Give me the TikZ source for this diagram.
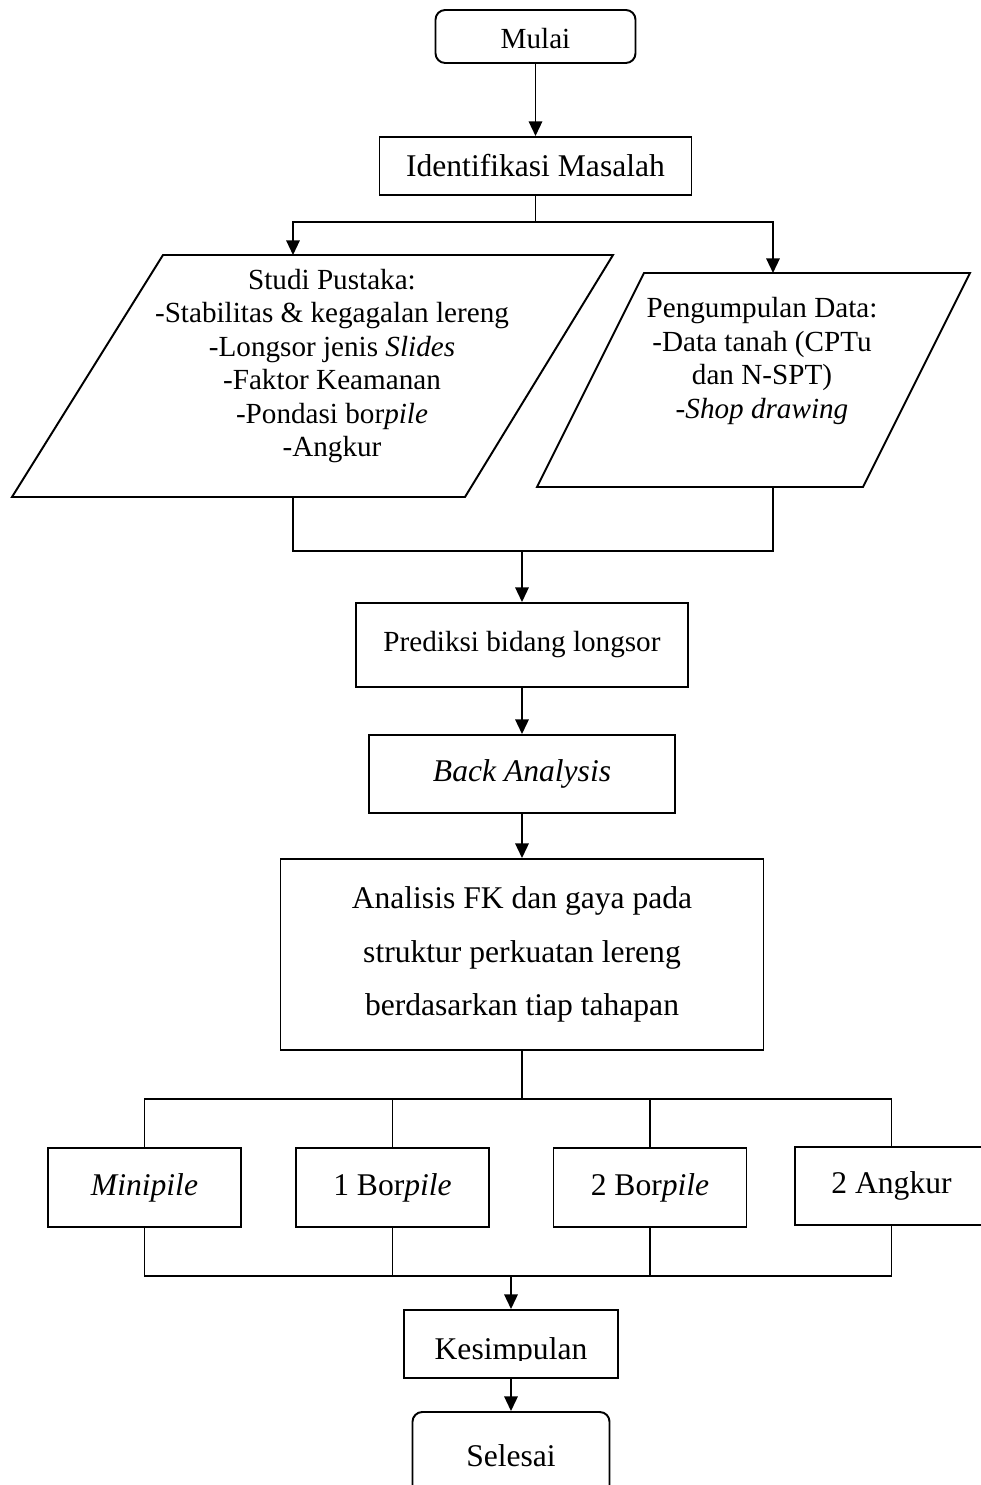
\documentclass[tikz,border=0pt]{standalone}
\usepackage{fontspec}
\setmainfont{Liberation Serif}
\usepackage{tikz}
\usetikzlibrary{arrows.meta, positioning, calc}
\newcommand{\pxu}{0.4115pt}
\tikzset{
  box/.style={rectangle,draw=black,line width=0.8pt,inner sep=0pt,align=center,
    font=\fontsize{12}{13.8}\selectfont},
  bigbox/.style={box,font=\fontsize{13}{22}\selectfont},
  term/.style={box,rounded corners=4pt},
  paral/.style={draw=black,line width=0.8pt},
  txt/.style={align=center,inner sep=0pt,font=\fontsize{12}{13.8}\selectfont},
  arrow/.style={-{Triangle[length=6pt,width=5.5pt]},line width=0.8pt},
  line/.style={line width=0.8pt},
  thinline/.style={line width=0.6pt}
}
\begin{document}
\begin{tikzpicture}[x=0.4115pt,y=-0.4115pt]
  \useasboundingbox (0,0) rectangle (981,1485);
  \clip (0,0) rectangle (981,1485);

  % Start
  \node[term, minimum width={200*\pxu}, minimum height={53*\pxu}, text height=9.5pt, text depth=0pt] (mulai) at (535.5,36.5) {Mulai};
  \node[bigbox, minimum width={312*\pxu}, minimum height={58*\pxu}] (ident) at (535.5,166) {Identifikasi Masalah};
  \draw[arrow] (mulai) -- (ident);

  % split to literature / data
  \coordinate (split) at (535.5,222);
  \coordinate (studiin) at (293,255);
  \coordinate (datain) at (773,273);
  \draw[line] (ident) -- (split);
  \draw[arrow] (split) -| (studiin);
  \draw[arrow] (split) -| (datain);

  % Studi Pustaka
  \draw[paral] (12,497) -- (163,255) -- (613,255) -- (465,497) -- cycle;
  \node[txt] (studi) at (332,366) {Studi Pustaka:\\-Stabilitas \& kegagalan lereng\\-Longsor jenis \textit{Slides}\\-Faktor Keamanan\\-Pondasi bor\textit{pile}\\-Angkur};

  % Pengumpulan Data
  \draw[paral] (537,487) -- (644,273) -- (970,273) -- (863,487) -- cycle;
  \node[txt] (data) at (762,361) {Pengumpulan Data:\\-Data tanah (CPTu\\dan N-SPT)\\\textit{-Shop drawing}};

  % join
  \coordinate (studiout) at (293,497);
  \coordinate (dataout) at (773,487);
  \coordinate (busM) at (522,551);
  \draw[line] (studiout) |- (busM -| dataout) -- (dataout);

  \node[box, minimum width={332*\pxu}, minimum height={84*\pxu}] (pred) at (522,645) {Prediksi bidang longsor};
  \draw[arrow] (busM) -- (pred);
  \node[bigbox, minimum width={306*\pxu}, minimum height={78*\pxu}] (back) at (522,774) {\textit{Back Analysis}};
  \draw[arrow] (pred) -- (back);
  \node[bigbox, minimum width={483*\pxu}, minimum height={191*\pxu}] (ana) at (522,954.5) {Analisis FK dan gaya pada\\struktur perkuatan lereng\\berdasarkan tiap tahapan};
  \draw[arrow] (back) -- (ana);

  % variants
  \node[bigbox, minimum width={193*\pxu}, minimum height={79*\pxu}] (mini) at (144.5,1187.5) {\textit{Minipile}};
  \node[bigbox, minimum width={193*\pxu}, minimum height={79*\pxu}] (bor1) at (392.5,1187.5) {1 Bor\textit{pile}};
  \node[bigbox, minimum width={193*\pxu}, minimum height={79*\pxu}] (bor2) at (650,1187.5) {2 Bor\textit{pile}};
  \node[bigbox, minimum width={193*\pxu}, minimum height={78*\pxu}] (angk) at (891.5,1186) {2 Angkur};

  \coordinate (busT) at (522,1099);
  \draw[thinline] (ana) -- (busT);
  \draw[thinline] (mini.north) |- (angk.north |- busT) -- (angk.north);
  \foreach \n in {bor1,bor2}
    \draw[thinline] (\n.north) -- (\n.north |- busT);

  \coordinate (busB) at (511,1276);
  \draw[thinline] (mini.south) |- (angk.south |- busB) -- (angk.south);
  \foreach \n in {bor1,bor2}
    \draw[thinline] (\n.south) -- (\n.south |- busB);

  % end
  \node[box, minimum width={214*\pxu}, minimum height={68*\pxu}] (kes) at (511,1344) {};
  \begin{scope}
    \clip (403,1300) rectangle (617,1360.5);
    \node[txt, font=\fontsize{13}{15}\selectfont, anchor=base] (kestxt) at (511,1359) {Kesimpulan};
  \end{scope}
  \draw[arrow] (busB) -- (kes);
  \node[term, font=\fontsize{13}{15}\selectfont, minimum width={197*\pxu}, minimum height={88*\pxu}] (selesai) at (511,1456) {Selesai};
  \draw[arrow] (kes) -- (selesai);
\end{tikzpicture}
\end{document}
